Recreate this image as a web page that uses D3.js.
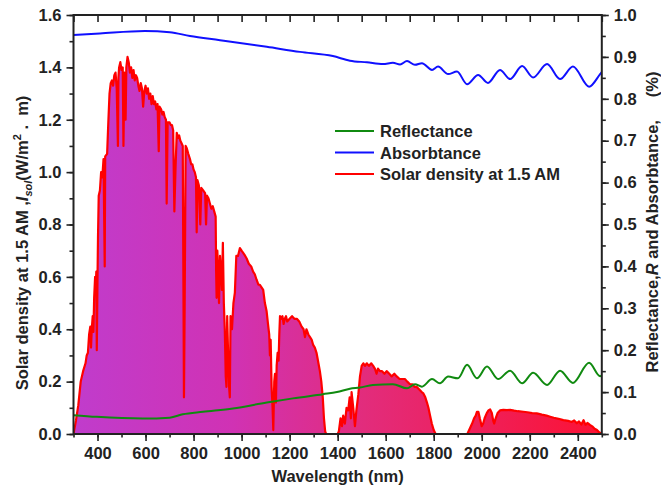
<!DOCTYPE html>
<html lang="en">
<head>
<meta charset="utf-8"/>
<title>Solar density, reflectance and absorbtance</title>
<script src="https://d3js.org/d3.v7.min.js"></script>
<style>
  body { margin: 0; background: #fff; }
  text { font-family: "Liberation Sans", Arial, sans-serif; font-weight: bold; fill: #222; }
</style>
</head>
<body>
<script>
// solar density at 1.5 AM, [wavelength nm, W/m2.nm]
const solar = [
  [300,0],[310,0.05],[320,0.11],[330,0.2],[340,0.24],[350,0.27],[355,0.30],[360,0.31],
  [365,0.38],[370,0.41],[373,0.33],[376,0.40],[380,0.45],[383,0.39],[386,0.52],[390,0.60],
  [392,0.55],[395,0.62],[397,0.32],[400,0.60],[402,0.75],[405,0.91],[410,0.93],[415,1.0],
  [420,0.98],[425,1.05],[430,0.64],[432,1.06],[440,1.07],[445,1.19],[450,1.30],[455,1.34],
  [460,1.35],[465,1.33],[470,1.37],[475,1.38],[480,1.32],[485,1.10],[487,1.36],[490,1.40],
  [495,1.42],[500,1.39],[505,1.40],[508,1.10],[512,1.38],[517,1.20],[520,1.40],[525,1.44],
  [530,1.42],[535,1.38],[540,1.40],[545,1.36],[550,1.39],[555,1.35],[560,1.37],[565,1.36],
  [570,1.33],[575,1.31],[580,1.34],[585,1.32],[590,1.25],[595,1.31],[600,1.33],[605,1.30],
  [610,1.32],[615,1.28],[620,1.30],[625,1.26],[630,1.29],[635,1.26],[640,1.27],[645,1.24],
  [650,1.26],[655,1.08],[658,1.25],[665,1.24],[670,1.22],[675,1.23],[680,1.21],[685,1.20],
  [688,0.88],[692,1.19],[700,1.19],[705,1.18],[710,1.18],[715,1.16],[720,0.85],[725,1.02],
  [730,1.15],[735,1.13],[740,1.14],[745,1.12],[750,1.11],[755,1.10],[760,0.14],[763,0.50],
  [767,1.10],[772,1.09],[778,1.07],[785,1.05],[790,1.03],[795,1.03],[800,1.01],[805,1.00],
  [810,0.98],[813,0.77],[816,0.97],[822,0.95],[828,0.80],[832,0.94],[840,0.93],[848,0.92],
  [852,0.80],[856,0.91],[862,0.90],[868,0.88],[874,0.86],[880,0.87],[886,0.85],[892,0.83],
  [894,0.62],[896,0.52],[899,0.70],[902,0.62],[906,0.50],[910,0.68],[914,0.62],[918,0.55],
  [922,0.73],[926,0.50],[930,0.40],[934,0.22],[937,0.18],[940,0.45],[944,0.30],[948,0.18],
  [951,0.14],[954,0.45],[960,0.40],[966,0.50],[972,0.54],[978,0.68],[985,0.68],[993,0.71],
  [1000,0.70],[1008,0.69],[1015,0.68],[1021,0.67],[1030,0.65],[1040,0.64],[1048,0.62],
  [1055,0.61],[1062,0.59],[1070,0.57],[1076,0.57],[1083,0.56],[1090,0.55],[1097,0.50],
  [1104,0.47],[1110,0.42],[1115,0.38],[1118,0.30],[1121,0.36],[1125,0.18],[1129,0.10],
  [1132,0.015],[1136,0.20],[1139,0.23],[1143,0.12],[1146,0.26],[1150,0.31],[1154,0.28],
  [1157,0.38],[1160,0.45],[1165,0.44],[1170,0.45],[1175,0.42],[1180,0.44],[1185,0.45],
  [1190,0.43],[1200,0.44],[1210,0.45],[1220,0.44],[1230,0.44],[1240,0.43],[1250,0.41],
  [1258,0.40],[1264,0.37],[1270,0.40],[1278,0.38],[1285,0.37],[1292,0.36],[1298,0.34],
  [1305,0.33],[1312,0.31],[1320,0.27],[1326,0.24],[1332,0.20],[1338,0.14],[1343,0.06],
  [1348,0.01],[1352,0],[1400,0],[1405,0.01],[1412,0.06],[1418,0.03],[1423,0.07],[1430,0.04],
  [1437,0.10],[1444,0.09],[1450,0.14],[1455,0.06],[1458,0.16],[1465,0.10],[1472,0.03],
  [1478,0.09],[1486,0.15],[1493,0.22],[1500,0.26],[1507,0.27],[1514,0.26],[1521,0.27],
  [1530,0.26],[1540,0.27],[1548,0.26],[1555,0.25],[1562,0.23],[1568,0.25],[1576,0.24],
  [1585,0.24],[1595,0.23],[1604,0.24],[1615,0.23],[1625,0.22],[1636,0.23],[1646,0.22],
  [1658,0.21],[1668,0.21],[1680,0.21],[1690,0.20],[1701,0.19],[1712,0.19],[1720,0.18],
  [1729,0.18],[1740,0.17],[1750,0.16],[1757,0.155],[1765,0.14],[1772,0.12],[1778,0.10],
  [1785,0.07],[1792,0.04],[1800,0.015],[1808,0],[1940,0],[1950,0.02],[1960,0.04],[1968,0.06],
  [1975,0.07],[1980,0.085],[1986,0.085],[1992,0.06],[2000,0.03],[2006,0.04],[2012,0.06],
  [2021,0.08],[2028,0.09],[2035,0.094],[2042,0.08],[2048,0.05],[2052,0.04],[2058,0.06],
  [2066,0.08],[2076,0.09],[2090,0.092],[2105,0.091],[2118,0.092],[2135,0.089],[2150,0.087],
  [2173,0.085],[2190,0.083],[2210,0.08],[2229,0.079],[2250,0.074],[2270,0.07],[2285,0.066],
  [2300,0.062],[2320,0.058],[2340,0.053],[2360,0.05],[2375,0.046],[2385,0.052],[2396,0.041],
  [2405,0.048],[2415,0.036],[2424,0.053],[2432,0.035],[2440,0.042],[2452,0.034],[2462,0.028],
  [2470,0.02],[2480,0.015],[2490,0.006],[2500,0]
];

// absorbtance (fraction, right axis)
const absorbtance = [
  [300,0.952],[410,0.956],[597,0.962],[701,0.959],[785,0.950],[910,0.940],[1105,0.924],
  [1243,0.912],[1380,0.902],[1451,0.891],[1522,0.887],[1589,0.883],[1630,0.886],[1660,0.882],
  [1689,0.890],[1722,0.881],[1751,0.885],[1793,0.869],[1818,0.877],[1860,0.859],[1897,0.865],
  [1939,0.835],[1985,0.857],[2026,0.838],[2076,0.869],[2118,0.847],[2168,0.878],[2214,0.851],
  [2272,0.883],[2326,0.847],[2380,0.877],[2447,0.829],[2493,0.859],[2500,0.864]
];

// reflectance (fraction, right axis)
const reflectance = [
  [300,0.045],[396,0.041],[589,0.037],[701,0.039],[755,0.047],[839,0.053],[964,0.061],
  [1105,0.075],[1214,0.085],[1339,0.095],[1397,0.100],[1451,0.108],[1493,0.111],[1547,0.117],
  [1630,0.119],[1689,0.109],[1722,0.119],[1751,0.113],[1793,0.131],[1826,0.121],[1860,0.137],
  [1901,0.133],[1939,0.165],[1980,0.133],[2022,0.161],[2068,0.131],[2118,0.151],[2168,0.121],
  [2214,0.146],[2272,0.117],[2326,0.151],[2380,0.122],[2447,0.170],[2493,0.138],[2500,0.140]
];

const xMajor = [400, 600, 800, 1000, 1200, 1400, 1600, 1800, 2000, 2200, 2400];
const leftMajor = [0, 0.2, 0.4, 0.6, 0.8, 1.0, 1.2, 1.4, 1.6];
const rightMajor = [0, 0.1, 0.2, 0.3, 0.4, 0.5, 0.6, 0.7, 0.8, 0.9, 1.0];

const legendItems = [
  {name: "Reflectance", color: "#108a10"},
  {name: "Absorbtance", color: "#1010ff"},
  {name: "Solar density at 1.5 AM", color: "#ff0000"}
];

const W = 661, H = 488;
const m = {left: 73.5, right: 601.8, top: 15, bottom: 434};

const svg = d3.select("body").append("svg")
  .attr("width", W).attr("height", H);

const x = d3.scaleLinear().domain([300, 2500]).range([m.left, m.right]);
const yL = d3.scaleLinear().domain([0, 1.6]).range([m.bottom, m.top]);
const yR = d3.scaleLinear().domain([0, 1.0]).range([m.bottom, m.top]);

// gradient fill under the spectrum: purple on the blue side, red on the IR side
const defs = svg.append("defs");
const grad = defs.append("linearGradient")
  .attr("id", "fillGrad").attr("gradientUnits", "userSpaceOnUse")
  .attr("x1", x(300)).attr("x2", x(2500)).attr("y1", 0).attr("y2", 0);
grad.append("stop").attr("offset", "0%").attr("stop-color", "#c03ccc");
grad.append("stop").attr("offset", "30%").attr("stop-color", "#d032b4");
grad.append("stop").attr("offset", "55%").attr("stop-color", "#e22c7c");
grad.append("stop").attr("offset", "100%").attr("stop-color", "#fc1234");

defs.append("clipPath").attr("id", "plotClip").append("rect")
  .attr("x", m.left).attr("y", m.top).attr("width", m.right - m.left).attr("height", m.bottom - m.top);

const plot = svg.append("g").attr("clip-path", "url(#plotClip)");

plot.append("path")
  .datum(solar)
  .attr("fill", "url(#fillGrad)")
  .attr("d", d3.area().x(d => x(d[0])).y0(yL(0)).y1(d => yL(d[1])));

plot.append("path")
  .datum(solar)
  .attr("fill", "none").attr("stroke", "#ff0000").attr("stroke-width", 2.2)
  .attr("stroke-linejoin", "round")
  .attr("d", d3.line().x(d => x(d[0])).y(d => yL(d[1])));

const smooth = d3.line().curve(d3.curveMonotoneX).x(d => x(d[0])).y(d => yR(d[1]));

plot.append("path").datum(reflectance)
  .attr("fill", "none").attr("stroke", legendItems[0].color).attr("stroke-width", 2)
  .attr("d", smooth);

plot.append("path").datum(absorbtance)
  .attr("fill", "none").attr("stroke", legendItems[1].color).attr("stroke-width", 2)
  .attr("d", smooth);

// axes
function styleAxis(g) {
  g.select(".domain").remove();
  g.selectAll(".tick line").attr("stroke", "#222").attr("stroke-width", 1.6);
  g.selectAll(".tick text").style("font-size", "16.5px").attr("fill", "#222");
}

const xMinor = d3.range(300, 2501, 100);
const leftMinor = d3.range(0, 1.61, 0.1);
const rightMinor = d3.range(0, 1.001, 0.05);

svg.append("g").attr("transform", `translate(0,${m.bottom})`)
  .call(d3.axisBottom(x).tickValues(xMinor).tickSize(3.5).tickFormat(""))
  .call(styleAxis);
svg.append("g").attr("transform", `translate(0,${m.bottom})`)
  .call(d3.axisBottom(x).tickValues(xMajor).tickSize(7).tickPadding(6).tickFormat(d3.format("d")))
  .call(styleAxis);
svg.append("g").attr("transform", `translate(0,${m.top})`)
  .call(d3.axisBottom(x).tickValues(xMinor).tickSize(7).tickFormat(""))
  .call(styleAxis);

svg.append("g").attr("transform", `translate(${m.left},0)`)
  .call(d3.axisLeft(yL).tickValues(leftMinor).tickSize(4).tickFormat(""))
  .call(styleAxis);
svg.append("g").attr("transform", `translate(${m.left},0)`)
  .call(d3.axisLeft(yL).tickValues(leftMajor).tickSize(7).tickPadding(5).tickFormat(d3.format(".1f")))
  .call(styleAxis);

svg.append("g").attr("transform", `translate(${m.right},0)`)
  .call(d3.axisRight(yR).tickValues(rightMinor).tickSize(4).tickFormat(""))
  .call(styleAxis);
svg.append("g").attr("transform", `translate(${m.right},0)`)
  .call(d3.axisRight(yR).tickValues(rightMajor).tickSize(7).tickPadding(5).tickFormat(d3.format(".1f")))
  .call(styleAxis);

svg.append("rect")
  .attr("x", m.left).attr("y", m.top).attr("width", m.right - m.left).attr("height", m.bottom - m.top)
  .attr("fill", "none").attr("stroke", "#222").attr("stroke-width", 2);

// axis titles
svg.append("text")
  .attr("x", (m.left + m.right) / 2).attr("y", 482)
  .attr("text-anchor", "middle").style("font-size", "16.5px")
  .text("Wavelength (nm)");

const lt = svg.append("text")
  .attr("transform", "translate(28,243) rotate(-90)")
  .attr("text-anchor", "middle").style("font-size", "16.5px");
lt.append("tspan").text("Solar density at 1.5 AM ,");
lt.append("tspan").style("font-style", "italic").text("I");
lt.append("tspan").style("font-style", "italic").style("font-size", "11px").attr("dy", 4).text("sol");
lt.append("tspan").attr("dy", -4).text("(W/m");
lt.append("tspan").style("font-size", "11px").attr("dy", -7).text("2");
lt.append("tspan").attr("dy", 7).style("white-space", "pre").text(" .  m)");

const rt = svg.append("text")
  .attr("transform", "translate(658,222) rotate(-90)")
  .attr("text-anchor", "middle").style("font-size", "16.5px")
  .style("white-space", "pre");
rt.append("tspan").text("Reflectance,");
rt.append("tspan").style("font-style", "italic").text("R");
rt.append("tspan").text(" and Absorbtance,     (%)");

// legend
const legend = svg.append("g");
legendItems.forEach((d, i) => {
  const ly = 131 + i * 21.5;
  legend.append("line")
    .attr("x1", 335).attr("x2", 374).attr("y1", ly).attr("y2", ly)
    .attr("stroke", d.color).attr("stroke-width", 2);
  legend.append("text")
    .attr("x", 380).attr("y", ly + 6)
    .style("font-size", "16.5px")
    .text(d.name);
});
</script>
</body>
</html>
